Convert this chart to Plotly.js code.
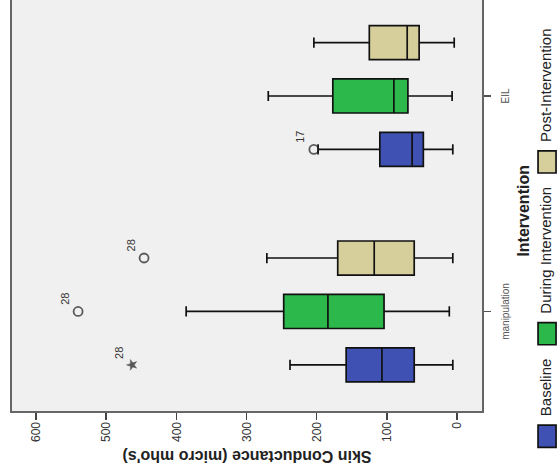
<!DOCTYPE html>
<html><head><meta charset="utf-8">
<script src="https://cdn.plot.ly/plotly-3.0.1.min.js"></script>
<style>
html,body{margin:0;padding:0;width:558px;height:473px;overflow:hidden;background:#fff;}
#chart{position:absolute;left:0;top:0;width:473px;height:590px;transform-origin:0 0;transform:translate(0px,473px) rotate(-90deg);}
#chart path.legendbox{transform:translate(20px,2px) scale(1.85,1.5);vector-effect:non-scaling-stroke;}
</style></head><body><div id="chart"></div>
<script>
// ---- data ----
const categories = ['manipulation', 'EIL'];
const seriesNames = ['Baseline', 'During Intervention', 'Post-Intervention'];

const baselineLowerWhisker = [6, 6];
const baselineQ1 = [61, 48];
const baselineMedian = [107, 64];
const baselineQ3 = [158, 110];
const baselineUpperWhisker = [238, 198];

const duringLowerWhisker = [11, 7];
const duringQ1 = [104, 70];
const duringMedian = [184, 90];
const duringQ3 = [247, 177];
const duringUpperWhisker = [386, 269];

const postLowerWhisker = [6, 4];
const postQ1 = [61, 54];
const postMedian = [118, 71];
const postQ3 = [170, 125];
const postUpperWhisker = [271, 204];

const outlierCategory = ['manipulation', 'manipulation', 'manipulation', 'EIL'];
const outlierSeries = ['Baseline', 'During Intervention', 'Post-Intervention', 'Baseline'];
const outlierValue = [463, 540, 446, 204];
const outlierCase = ['28', '28', '28', '17'];
const outlierExtreme = [true, false, false, false];

const legendTitle = 'Intervention';

// ---- styling ----
const colors = ['#3f52b3', '#2db84b', '#d6cf9c'];
const FONT = 'Arial, "Liberation Sans", sans-serif';
const SLOT = 0.248;      // distance between grouped boxes (category units)
const BOX_W = 0.158;     // box width (category units)
const offsets = seriesNames.map((s, k) => (k - 1) * SLOT);

const stats = [
  [baselineLowerWhisker, baselineQ1, baselineMedian, baselineQ3, baselineUpperWhisker],
  [duringLowerWhisker, duringQ1, duringMedian, duringQ3, duringUpperWhisker],
  [postLowerWhisker, postQ1, postMedian, postQ3, postUpperWhisker]
];

const traces = seriesNames.map((name, k) => ({
  type: 'box',
  name: name,
  x: categories.map((c, i) => i + offsets[k]),
  lowerfence: stats[k][0],
  q1: stats[k][1],
  median: stats[k][2],
  q3: stats[k][3],
  upperfence: stats[k][4],
  width: BOX_W,
  whiskerwidth: 0.3,
  boxpoints: false,
  fillcolor: colors[k],
  line: {color: '#111111', width: 1.7},
  hoverinfo: 'skip'
}));

traces.push({
  type: 'scatter',
  mode: 'markers+text',
  showlegend: false,
  x: outlierValue.map((v, j) => categories.indexOf(outlierCategory[j]) + offsets[seriesNames.indexOf(outlierSeries[j])]),
  y: outlierValue,
  text: outlierCase,
  textposition: 'top right',
  textfont: {family: FONT, size: 11, color: '#333333'},
  marker: {
    symbol: outlierExtreme.map(e => e ? 'star' : 'circle-open'),
    size: outlierExtreme.map(e => e ? 8 : 9),
    color: '#1a1a1a',
    line: {color: '#1a1a1a', width: outlierExtreme.map(e => e ? 0.5 : 1.8)}
  },
  hoverinfo: 'skip'
});

// pad the legend title with leading no-break spaces so the centred title sits right of centre, as in the reference
const padTitle = '\u00a0'.repeat(13) + legendTitle;

const layout = {
  width: 473, height: 590,
  margin: {l: 62, r: 0, t: 12, b: 108, pad: 0},
  paper_bgcolor: '#ffffff',
  plot_bgcolor: '#f0f0f0',
  font: {family: FONT, color: '#222'},
  showlegend: true,
  xaxis: {
    type: 'linear',
    range: [-0.462, 1.4455],
    tickvals: categories.map((c, i) => i),
    ticktext: categories,
    ticks: 'outside', ticklen: 7, tickwidth: 1.5, tickcolor: '#555',
    ticklabelstandoff: 6,
    showline: true, mirror: true, linecolor: '#666', linewidth: 1.6,
    showgrid: false, zeroline: false,
    tickfont: {family: FONT, size: 10, color: '#555'},
    automargin: false
  },
  yaxis: {
    range: [-35.6, 634.2],
    tick0: 0, dtick: 100,
    ticks: 'outside', ticklen: 7, tickwidth: 1.5, tickcolor: '#444',
    showline: true, linecolor: '#666', linewidth: 1.6,
    showgrid: false, zeroline: false,
    tickfont: {family: FONT, size: 12, color: '#333'},
    title: {text: "Skin Conductance (micro mho's)", standoff: 4,
            font: {family: FONT, size: 16, weight: 'bold', color: '#222'}},
    automargin: false
  },
  legend: {
    orientation: 'h',
    x: -0.11, xanchor: 'left',
    y: -0.0553, yanchor: 'top',
    bgcolor: 'rgba(0,0,0,0)',
    font: {family: FONT, size: 15, color: '#222'},
    title: {text: padTitle, side: 'top center',
            font: {family: FONT, size: 16, weight: 'bold', color: '#222'}},
    traceorder: 'normal'
  }
};

Plotly.newPlot('chart', traces, layout, {staticPlot: true, displayModeBar: false});
</script>
</body></html>
